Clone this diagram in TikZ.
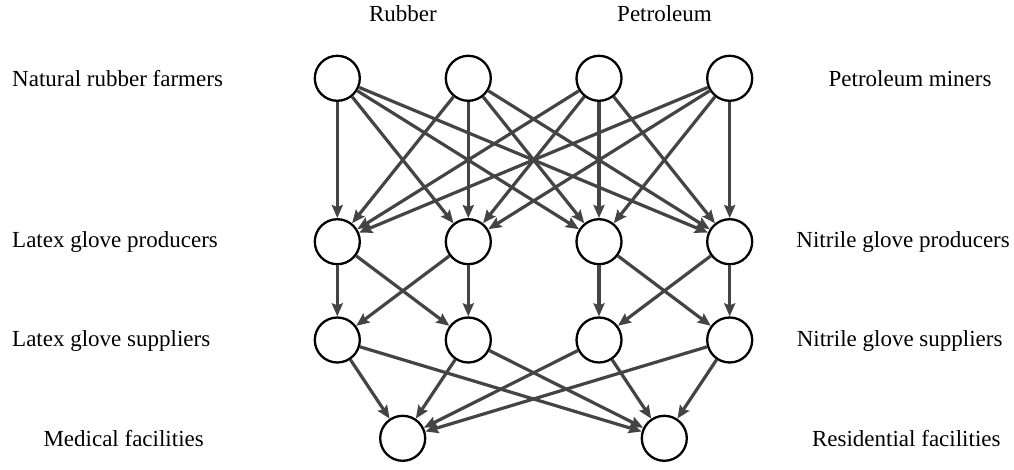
\documentclass[tikz,border=0pt]{standalone}
\usepackage{fontspec}
\setmainfont{Liberation Serif}
\usetikzlibrary{arrows.meta}
\definecolor{edgegray}{HTML}{444444}
\tikzset{
  agent/.style={circle, draw=black, fill=white, line width=2.3pt, minimum size=45pt, inner sep=0pt},
  flow/.style={draw=edgegray, line width=3.2pt, -{Stealth[length=13pt,width=11pt,inset=2pt]}},
  lbl/.style={font=\fontsize{23}{27}\selectfont, inner sep=0pt, text=black}
}
\begin{document}
\begin{tikzpicture}[x=1pt, y=-1pt]
\useasboundingbox (0,0) rectangle (1014,470);
% nodes
\node[agent] (a1) at (337.3,78.3) {};
\node[agent] (a2) at (468.3,78.3) {};
\node[agent] (a3) at (599,78.3) {};
\node[agent] (a4) at (729.7,78.3) {};
\node[agent] (b1) at (337.3,241.7) {};
\node[agent] (b2) at (468.3,241.7) {};
\node[agent] (b3) at (599,241.7) {};
\node[agent] (b4) at (729.7,241.7) {};
\node[agent] (c1) at (337.3,340) {};
\node[agent] (c2) at (468.3,340) {};
\node[agent] (c3) at (599,340) {};
\node[agent] (c4) at (729.7,340) {};
\node[agent] (d1) at (402.7,438.3) {};
\node[agent] (d2) at (664.3,438.3) {};
% edges
\foreach \s in {a1,a2,a3,a4}{
  \foreach \t in {b1,b2,b3,b4}{
    \draw[flow] (\s) -- (\t);
  }
}
\foreach \s/\t in {b1/c1,b1/c2,b2/c1,b2/c2,b3/c3,b3/c4,b4/c3,b4/c4}{
  \draw[flow] (\s) -- (\t);
}
\foreach \s in {c1,c2,c3,c4}{
  \foreach \t in {d1,d2}{
    \draw[flow] (\s) -- (\t);
  }
}
% labels
\node[lbl, anchor=base] (lrub) at (403,21.7) {Rubber};
\node[lbl, anchor=base] (lpet) at (664.5,21.7) {Petroleum};
\node[lbl, anchor=base west] (l1) at (12,87) {Natural rubber farmers};
\node[lbl, anchor=base west] (l2) at (12,247.7) {Latex glove producers};
\node[lbl, anchor=base west] (l3) at (12,346.7) {Latex glove suppliers};
\node[lbl, anchor=base west] (l4) at (43.3,446) {Medical facilities};
\node[lbl, anchor=base east] (r1) at (991.7,87) {Petroleum miners};
\node[lbl, anchor=base east] (r2) at (1010,247.7) {Nitrile glove producers};
\node[lbl, anchor=base east] (r3) at (1002.7,346.7) {Nitrile glove suppliers};
\node[lbl, anchor=base east] (r4) at (1000.7,446) {Residential facilities};
\end{tikzpicture}
\end{document}
